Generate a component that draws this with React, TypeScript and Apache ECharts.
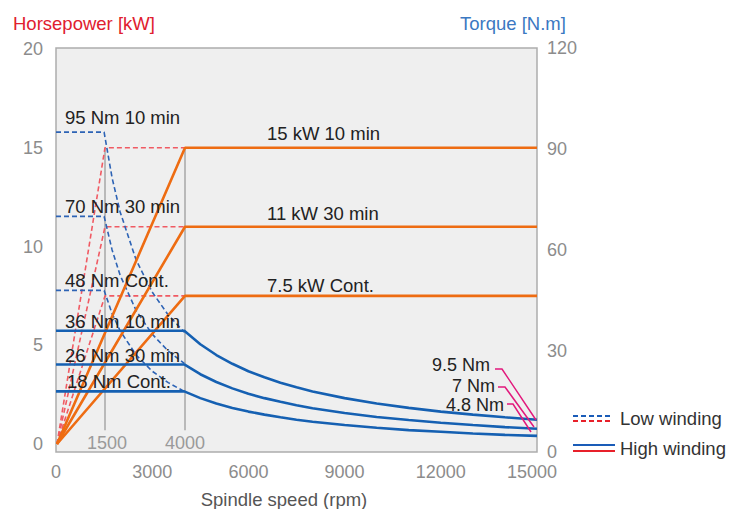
import React, { useEffect, useRef } from "react";
import * as echarts from "echarts";

// ---- data ----
const lowWindingRpm = [0, 1500, 4000];
const lowPower10min = [0, 15, 15];
const lowPower30min = [0, 11, 11];
const lowPowerCont = [0, 7.5, 7.5];

const highWindingRpm = [0, 4000, 15000];
const highPower10min = [0, 15, 15];
const highPower30min = [0, 11, 11];
const highPowerCont = [0, 7.5, 7.5];

const lowTorqueRpm = [0, 1500, 1750, 2000, 2500, 3000, 3500, 4000];
const lowTorque10min = [95, 95, 81.4, 71.3, 57, 47.5, 40.7, 35.6];
const lowTorque30min = [70, 70, 60, 52.5, 42, 35, 30, 26.3];
const lowTorqueCont = [48, 48, 41.1, 36, 28.8, 24, 20.6, 18];

const highTorqueRpm = [0, 4000, 4500, 5000, 5500, 6000, 6500, 7000, 7500, 8000, 9000, 10000, 11000, 12000, 13000, 14000, 15000];
const highTorque10min = [36, 36, 32, 28.8, 26.2, 24, 22.2, 20.6, 19.2, 18, 16, 14.4, 13.1, 12, 11.1, 10.3, 9.6];
const highTorque30min = [26, 26, 23.1, 20.8, 18.9, 17.3, 16, 14.9, 13.9, 13, 11.6, 10.4, 9.5, 8.7, 8, 7.4, 6.9];
const highTorqueCont = [18, 18, 16, 14.4, 13.1, 12, 11.1, 10.3, 9.6, 9, 8, 7.2, 6.5, 6, 5.5, 5.1, 4.8];

const baseSpeedMarks = [1500, 4000];
const baseMarkLow = 0.7;
const baseMarkHigh = 15;

const FONT = '"Helvetica Neue", "Liberation Sans", Arial, sans-serif';
const BLUE = "#1560b2";
const BLUE_D = "#2d63b5";
const ORANGE = "#ee6c12";
const RED_D = "#f05a63";
const PINK = "#e2197c";

const zip = (xs: number[], ys: number[]) => xs.map((x, i) => [x, ys[i]]);

export default function App() {
  const ref = useRef<HTMLDivElement>(null);
  useEffect(() => {
    if (!ref.current) return;
    const chart = echarts.init(ref.current, undefined, { renderer: "svg" });

    const dashed = (name: string, data: number[][], color: string, grid: number) => ({
      name,
      type: "line",
      xAxisIndex: grid,
      yAxisIndex: grid,
      data,
      symbol: "none",
      silent: true,
      z: 2,
      lineStyle: { color, width: 1.6, type: [5, 3] },
    });
    const solid = (name: string, data: number[][], color: string, grid: number, z: number) => ({
      name,
      type: "line",
      xAxisIndex: grid,
      yAxisIndex: grid,
      data,
      symbol: "none",
      silent: true,
      z,
      lineStyle: { color, width: 2.6 },
    });

    const tickColor = "#8c8c8c";
    const txt = (text: string, x: number, y: number, align = "left", size = 18.5, fill = "#222") => ({
      type: "text",
      x,
      y,
      z: 20,
      style: { text, fill, font: `${size}px ${FONT}`, align, verticalAlign: "middle" },
    });

    const option: any = {
      animation: false,
      grid: [
        { left: 57, right: 195, top: 49, height: 395 },
        {
          left: 56,
          right: 195,
          top: 48,
          height: 404,
          show: true,
          backgroundColor: "#efefef",
          borderColor: "#adadad",
          borderWidth: 1.5,
        },
      ],
      xAxis: [
        { gridIndex: 0, type: "value", min: 0, max: 15000, show: false },
        {
          gridIndex: 1,
          type: "value",
          min: 0,
          max: 15000,
          interval: 3000,
          axisLine: { show: false },
          axisTick: { show: false },
          splitLine: { show: false },
          axisLabel: {
            color: tickColor,
            fontSize: 18,
            fontFamily: FONT,
            margin: 11,
            formatter: (v: number) => (v === 15000 ? "{s|15000}" : String(v)),
            rich: { s: { padding: [0, 10, 0, 0], color: tickColor, fontSize: 18, fontFamily: FONT } },
          },
        },
      ],
      yAxis: [
        {
          gridIndex: 0,
          type: "value",
          min: 0,
          max: 20,
          interval: 5,
          axisLine: { show: false },
          axisTick: { show: false },
          splitLine: { show: false },
          axisLabel: { color: tickColor, fontSize: 18, fontFamily: FONT, margin: 14 },
        },
        {
          gridIndex: 1,
          type: "value",
          position: "right",
          min: 0,
          max: 120,
          interval: 30,
          axisLine: { show: false },
          axisTick: { show: false },
          splitLine: { show: false },
          axisLabel: { color: tickColor, fontSize: 18, fontFamily: FONT, margin: 10 },
        },
      ],
      series: [
        ...baseSpeedMarks.map((s) => ({
          type: "line",
          xAxisIndex: 0,
          yAxisIndex: 0,
          data: [
            [s, baseMarkLow],
            [s, baseMarkHigh],
          ],
          symbol: "none",
          silent: true,
          z: 1,
          lineStyle: { color: "#b9b9b9", width: 2 },
        })),
        dashed("lowP10", zip(lowWindingRpm, lowPower10min), RED_D, 0),
        dashed("lowP30", zip(lowWindingRpm, lowPower30min), RED_D, 0),
        dashed("lowPC", zip(lowWindingRpm, lowPowerCont), RED_D, 0),
        dashed("lowT10", zip(lowTorqueRpm, lowTorque10min), BLUE_D, 1),
        dashed("lowT30", zip(lowTorqueRpm, lowTorque30min), BLUE_D, 1),
        dashed("lowTC", zip(lowTorqueRpm, lowTorqueCont), BLUE_D, 1),
        solid("highP10", zip(highWindingRpm, highPower10min), ORANGE, 0, 3),
        solid("highP30", zip(highWindingRpm, highPower30min), ORANGE, 0, 3),
        solid("highPC", zip(highWindingRpm, highPowerCont), ORANGE, 0, 3),
        solid("highT10", zip(highTorqueRpm, highTorque10min), BLUE, 1, 4),
        solid("highT30", zip(highTorqueRpm, highTorque30min), BLUE, 1, 4),
        solid("highTC", zip(highTorqueRpm, highTorqueCont), BLUE, 1, 4),
      ],
      graphic: [
        txt("Horsepower [kW]", 13, 23, "left", 18.5, "#e0202e"),
        txt("Torque [N.m]", 460, 23, "left", 18.5, "#3b78c2"),
        txt("Spindle speed (rpm)", 284, 499, "center", 18.5, "#555"),
        txt("1500", 107, 443, "center", 18, "#9a9a9a"),
        txt("4000", 185, 443, "center", 18, "#9a9a9a"),
        txt("95 Nm 10 min", 65, 117),
        txt("70 Nm 30 min", 65, 206),
        txt("48 Nm Cont.", 65, 280),
        txt("36 Nm 10 min", 65, 321),
        txt("26 Nm 30 min", 65, 355),
        txt("18 Nm Cont.", 67, 381),
        txt("15 kW 10 min", 267, 133),
        txt("11 kW 30 min", 267, 213),
        txt("7.5 kW Cont.", 267, 285),
        txt("9.5 Nm", 490, 365, "right", 18),
        txt("7 Nm", 495, 386, "right", 18),
        txt("4.8 Nm", 504, 405, "right", 18),
        {
          type: "polyline",
          z: 20,
          shape: { points: [[495, 369], [502, 369], [536, 420]] },
          style: { stroke: PINK, lineWidth: 1.5, fill: "none" },
        },
        {
          type: "polyline",
          z: 20,
          shape: { points: [[498, 387], [505, 387], [534, 427]] },
          style: { stroke: PINK, lineWidth: 1.5, fill: "none" },
        },
        {
          type: "polyline",
          z: 20,
          shape: { points: [[507, 404], [513, 404], [531, 432]] },
          style: { stroke: PINK, lineWidth: 1.5, fill: "none" },
        },
        {
          type: "line",
          shape: { x1: 573, y1: 416, x2: 612, y2: 416 },
          style: { stroke: "#1a5cb8", lineWidth: 2, lineDash: [5, 3] },
        },
        {
          type: "line",
          shape: { x1: 573, y1: 421, x2: 612, y2: 421 },
          style: { stroke: "#e8202a", lineWidth: 2, lineDash: [5, 3] },
        },
        txt("Low winding", 620, 418, "left", 18.5, "#333"),
        {
          type: "line",
          shape: { x1: 573, y1: 445, x2: 615, y2: 445 },
          style: { stroke: "#1a5cb8", lineWidth: 2 },
        },
        {
          type: "line",
          shape: { x1: 573, y1: 451, x2: 615, y2: 451 },
          style: { stroke: "#e8202a", lineWidth: 2 },
        },
        txt("High winding", 620, 448, "left", 18.5, "#333"),
      ],
    };

    chart.setOption(option);
    return () => chart.dispose();
  }, []);

  return <div ref={ref} style={{ width: 732, height: 509, position: "absolute", left: 0, top: 0 }} />;
}
